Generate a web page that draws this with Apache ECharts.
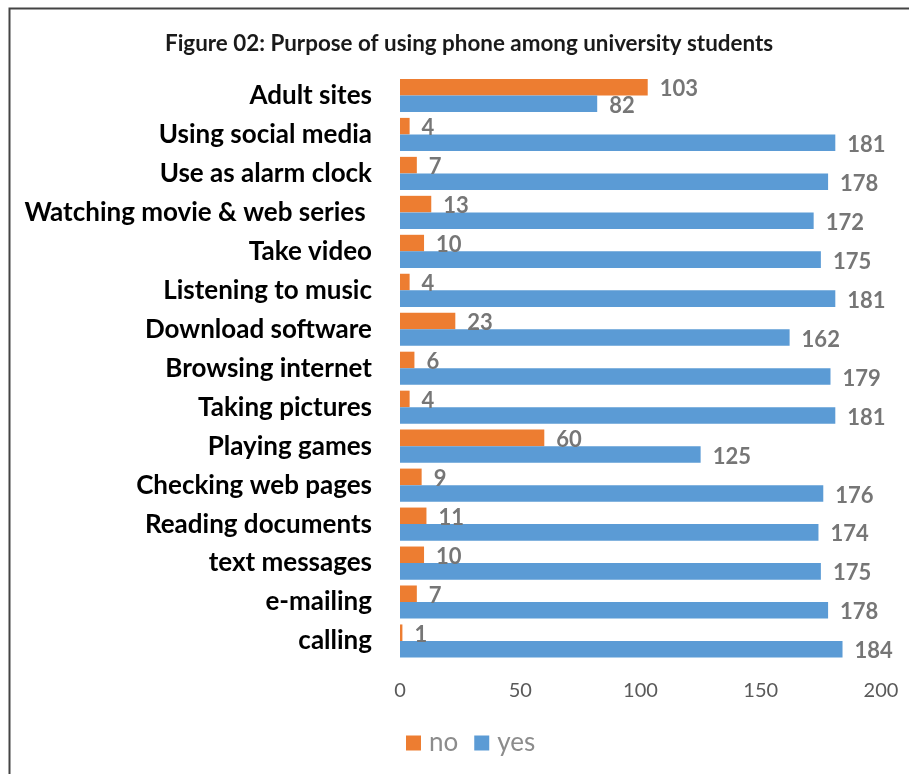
<!DOCTYPE html>
<html>
<head>
<meta charset="utf-8">
<script src="https://cdn.jsdelivr.net/npm/echarts@6/dist/echarts.min.js"></script>
<style>
  html, body { margin: 0; padding: 0; background: #fff; }
  #chart { width: 909px; height: 774px; }
</style>
</head>
<body>
<div id="chart"></div>
<script>
// Survey purposes, listed top to bottom
const categories = [
  'Adult sites', 'Using social media', 'Use as alarm clock', 'Watching movie & web series ',
  'Take video', 'Listening to music', 'Download software', 'Browsing internet',
  'Taking pictures', 'Playing games', 'Checking web pages', 'Reading documents',
  'text messages', 'e-mailing', 'calling'
];
const noValues  = [103, 4, 7, 13, 10, 4, 23, 6, 4, 60, 9, 11, 10, 7, 1];
const yesValues = [82, 181, 178, 172, 175, 181, 162, 179, 181, 125, 176, 174, 175, 178, 184];
const axisTicks = [0, 50, 100, 150, 200];

const FONT = 'Lato, "Open Sans", sans-serif';

const chart = echarts.init(document.getElementById('chart'), null, { renderer: 'canvas' });

const valueLabel = {
  show: true,
  position: 'right',
  distance: 12,
  offset: [0, 2],
  color: '#767676',
  fontWeight: 'bold',
  fontSize: 22,
  fontFamily: FONT
};

chart.setOption({
  animation: false,
  backgroundColor: '#ffffff',
  graphic: [{
    type: 'rect',
    shape: { x: 9.5, y: 8.5, width: 910, height: 780 },
    style: { fill: 'none', stroke: '#444444', lineWidth: 2 },
    silent: true
  }],
  title: {
    text: 'Figure 02: Purpose of using phone among university students',
    left: 160,
    top: 28,
    textStyle: { fontFamily: FONT, fontWeight: 'bold', fontSize: 22.4, color: '#1a1a1a' }
  },
  legend: {
    data: ['no', 'yes'],
    left: 401,
    top: 725,
    itemWidth: 15,
    itemHeight: 15,
    itemGap: 16,
    icon: 'rect',
    textStyle: { fontFamily: FONT, fontSize: 26, color: '#8c8c8c', padding: [0, 0, 0, 3] }
  },
  grid: { left: 400, right: 28, top: 76, bottom: 113.5, containLabel: false },
  xAxis: {
    type: 'value',
    min: axisTicks[0],
    max: axisTicks[axisTicks.length - 1],
    interval: axisTicks[1] - axisTicks[0],
    axisLine: { show: false },
    axisTick: { show: false },
    splitLine: { show: false },
    axisLabel: {
      margin: 20,
      color: '#595959',
      fontSize: 20,
      fontFamily: FONT,
      formatter: v => axisTicks.includes(v) ? String(v) : ''
    }
  },
  yAxis: {
    type: 'category',
    data: categories,
    inverse: true,
    axisLine: { show: false },
    axisTick: { show: false },
    axisLabel: {
      margin: 28,
      color: '#000000',
      fontWeight: 'bold',
      fontSize: 26,
      fontFamily: FONT
    }
  },
  series: [
    {
      name: 'no',
      type: 'bar',
      data: noValues,
      barGap: '0%',
      barCategoryGap: '15%',
      itemStyle: { color: '#ED7D31' },
      label: valueLabel
    },
    {
      name: 'yes',
      type: 'bar',
      data: yesValues,
      barGap: '0%',
      barCategoryGap: '15%',
      itemStyle: { color: '#5B9BD5' },
      label: valueLabel
    }
  ]
});
</script>
</body>
</html>
